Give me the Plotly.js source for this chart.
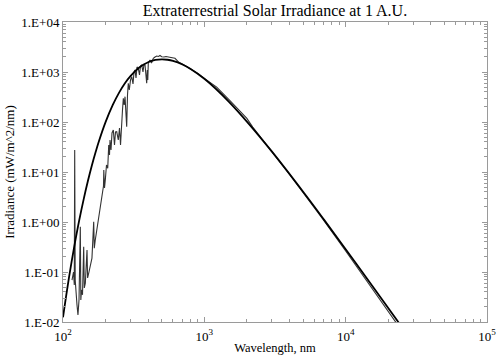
<!DOCTYPE html>
<html>
<head>
<meta charset="utf-8">
<script src="https://cdn.plot.ly/plotly-3.0.1.min.js"></script>
<style>html,body{margin:0;padding:0;background:#fff;}#chart{width:504px;height:363px;}</style>
</head>
<body>
<div id="chart"></div>
<script>
// Blackbody-like smooth curve
var bbWavelength = [100,105,110,115,120,130,140,150,160,170,180,200,225,250,275,300,350,400,450,500,550,600,700,800,1000,1200,1500,2000,3000,5000,7000,10000,15000,20000,25000];
var bbIrradiance = [0.0124,0.0319,0.0742,0.159,0.317,1.05,2.84,6.59,13.5,24.8,42.1,99.2,219,392,602,829,1255,1568,1741,1794,1758,1668,1414,1151,732,467,250,102,25.8,4.02,1.13,0.286,0.059,0.0191,0.00792];

var specWavelength = [115.8,118.7,120.2,121.0,122.0,123.6,125.6,127.6,129.8,132.6,133.7,135.2,137.4,140.1,141.5,143.9,147.9,149.3,152.7,156.0,160.3,164.9,166.5,169.2,174.0,178.3,181.2,183.6,187.3,190.3,193.4,194.4,196.6,199.2,203.1,207.2,210.6,213.3,215.1,218.6,222.2,227.0,231.4,235.2,239.9,246.2,251.1,255.3,260.2,263.6,267.2,271.0,274.7,278.3,282.3,286.0,289.7,294.5,300.4,306.3,312.9,318.0,323.2,328.5,333.9,341.1,347.8,353.5,360.5,368.1,374.2,380.4,386.6,391.0,394.9,398.0,401.4,412.7,422.9,435.5,447.7,460.3,474.0,485.7,499.3,518.3,535.5,555.9,581.0,620.1,660,700,800,900,1000,1100,1223,1500,1700,2000,2200,2400,3000,4000,5000,7000,10000,15000,20000,25000];
var specIrradiance = [0.069,0.1,0.055,27.5,0.069,0.035,0.022,0.0138,0.0275,0.805,0.0275,0.0437,0.035,0.32,0.048,0.06,0.275,0.076,0.1,0.132,0.19,1.01,0.30,0.437,0.76,1.0,1.58,2.02,2.75,3.98,5.25,11,4.8,6.9,13.8,11.9,34.7,21.9,43.7,27.5,60.3,69.2,34.7,63.1,64,43.7,75.9,34.7,127.6,174,298,219,321,174,80.5,347,594,437,692,806,575,1000,1096,759,1259,1186,871,1318,1380,1000,1445,1380,871,594,1096,692,1535,1738,1514,1879,1995,2089,2042,2138,2023,1995,2042,2023,1950,1879,1560,1440,1160,930,745,610,500,277,190,118,79,57,25.5,9.1,3.95,1.07,0.263,0.052,0.0163,0.00665];

var xTickVals = [100,1000,10000,100000];
var xTickText = ['10<sup>2</sup>','10<sup>3</sup>','10<sup>4</sup>','10<sup>5</sup>'];
var yTickVals = [0.01,0.1,1,10,100,1000,10000];
var yTickText = ['1.E-02','1.E-01','1.E+00','1.E+01','1.E+02','1.E+03','1.E+04'];

function minorVals(lo, hi){
  var out=[];
  for (var d=lo; d<hi; d++){ for (var k=2;k<=9;k++){ out.push(k*Math.pow(10,d)); } }
  return out;
}

var axisColor = '#9a9a9a';
var fontFam = '"Liberation Serif", "DejaVu Serif", serif';

var traces = [
  {x: specWavelength, y: specIrradiance, type:'scatter', mode:'lines',
   line:{color:'#333', width:1.1}, hoverinfo:'skip'},
  {x: bbWavelength, y: bbIrradiance, type:'scatter', mode:'lines',
   line:{color:'#000', width:1.8, shape:'spline'}, hoverinfo:'skip'}
];

var layout = {
  width:504, height:363,
  margin:{l:63, r:17, t:22, b:41},
  paper_bgcolor:'#fff', plot_bgcolor:'#fff',
  showlegend:false,
  font:{family:fontFam, color:'#000', size:13},
  title:{text:'Extraterrestrial Solar Irradiance at 1 A.U.', font:{size:16, family:fontFam, color:'#000'},
         x:0.5456, xanchor:'center', yref:'container', y:0.97, yanchor:'middle'},
  xaxis:{type:'log', range:[2,5], showgrid:false, zeroline:false,
         showline:true, linecolor:axisColor, linewidth:1, mirror:'ticks',
         ticks:'inside', ticklen:5, tickcolor:axisColor, tickwidth:1,
         tickvals:xTickVals, ticktext:xTickText, tickfont:{size:13, family:fontFam},
         ticklabelstandoff:2,
         minor:{ticks:'inside', ticklen:3, tickcolor:axisColor, tickwidth:1, tickvals:minorVals(2,5), showgrid:false},
         title:{text:'Wavelength, nm', font:{size:12.5, family:fontFam}, standoff:0}},
  yaxis:{type:'log', range:[-2,4], showgrid:false, zeroline:false,
         showline:true, linecolor:axisColor, linewidth:1, mirror:'ticks',
         ticks:'inside', ticklen:5, tickcolor:axisColor, tickwidth:1,
         tickvals:yTickVals, ticktext:yTickText, tickfont:{size:13, family:fontFam},
         minor:{ticks:'inside', ticklen:3, tickcolor:axisColor, tickwidth:1, tickvals:minorVals(-2,4), showgrid:false},
         title:{text:'Irradiance (mW/m^2/nm)', font:{size:13, family:fontFam}, standoff:3}}
};

Plotly.newPlot('chart', traces, layout, {displayModeBar:false, staticPlot:true});
</script>
</body>
</html>
